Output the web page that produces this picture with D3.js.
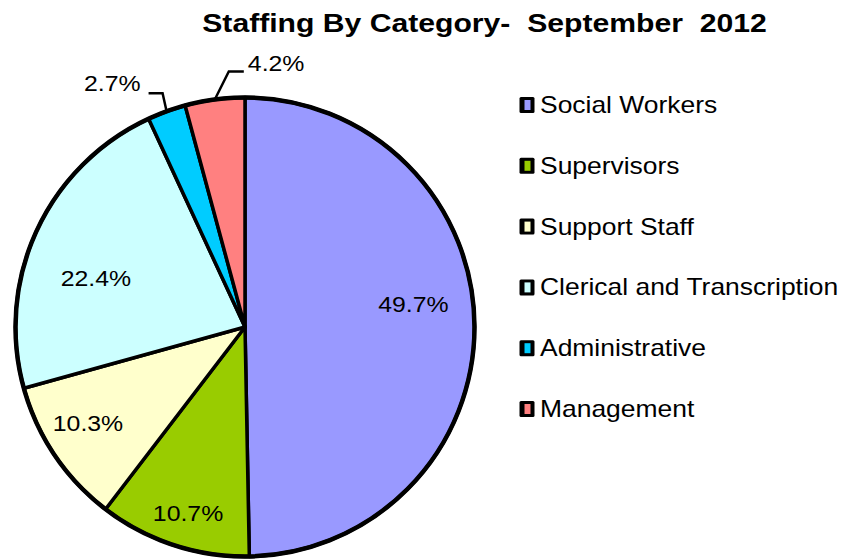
<!DOCTYPE html>
<html>
<head>
<meta charset="utf-8">
<script src="https://cdn.jsdelivr.net/npm/d3@7"></script>
<style>
  html, body { margin: 0; padding: 0; background: #fff; }
  svg { display: block; }
  text { font-family: Arial, "Liberation Sans", sans-serif; fill: #000; white-space: pre; }
</style>
</head>
<body>
<svg id="chart" width="846" height="560"></svg>
<script>
// Staff headcount share by category, September 2012 (percent)
const categories = ["Social Workers", "Supervisors", "Support Staff",
                    "Clerical and Transcription", "Administrative", "Management"];
const shares = [49.7, 10.7, 10.3, 22.4, 2.7, 4.2];
const sliceColors = ["#9999FF", "#99CC00", "#FFFFCC", "#CCFFFF", "#00CCFF", "#FF8080"];
const chartTitle = "Staffing By Category-  September  2012";

const svg = d3.select("#chart");
const cx = 245, cy = 327, R = 229.5;
const stretch = 1.16;   // text is drawn slightly wide

// horizontally widened text anchored at (x, y)
function wideText(sel, x, y, str, size, anchor, weight, k) {
  const g = sel.append("g").attr("transform", `translate(${x},${y}) scale(${k || stretch},1)`);
  g.append("text")
    .attr("xml:space", "preserve")
    .attr("text-anchor", anchor || "start")
    .attr("font-size", size)
    .attr("font-weight", weight || "normal")
    .text(str);
  return g;
}

// title
wideText(svg, 484.5, 32, chartTitle, 26, "middle", "bold");

const color = d3.scaleOrdinal().domain(categories).range(sliceColors);
const pie = d3.pie().sort(null).value(d => d.value);
const arcs = pie(categories.map((c, i) => ({ name: c, value: shares[i] })));
const arc = d3.arc().innerRadius(0).outerRadius(R);

const g = svg.append("g").attr("transform", `translate(${cx},${cy})`);
g.selectAll("path.slice")
  .data(arcs)
  .enter().append("path")
  .attr("class", "slice")
  .attr("d", arc)
  .attr("fill", d => color(d.data.name))
  .attr("stroke", "#000")
  .attr("stroke-width", 3.5)
  .attr("stroke-linejoin", "round");
g.append("circle").attr("r", R).attr("fill", "none")
  .attr("stroke", "#000").attr("stroke-width", 4.5);

const fmt = v => v.toFixed(1) + "%";
const mid = d => (d.startAngle + d.endAngle) / 2;

// labels inside the larger slices: [radius, angle shift in degrees]
const insidePlacement = {
  "Social Workers": [170, -7.3],
  "Supervisors": [195, -1.2],
  "Support Staff": [184, 2.6],
  "Clerical and Transcription": [157, -6.6]
};
arcs.forEach(d => {
  const p = insidePlacement[d.data.name];
  if (!p) return;
  const a = mid(d) + p[1] * Math.PI / 180;
  const x = Math.sin(a) * p[0], y = -Math.cos(a) * p[0];
  wideText(g, x, y + 8, fmt(d.data.value), 22, "middle", "normal", 1.13);
});

// small slices: labels outside with leader lines
// [elbow dx, elbow dy, horizontal run, label side]
const outsidePlacement = {
  "Administrative": [-4, -18, -14, "end"],
  "Management": [14, -28, 15, "start"]
};
arcs.forEach(d => {
  const p = outsidePlacement[d.data.name];
  if (!p) return;
  const a = mid(d);
  const ex = Math.sin(a) * R, ey = -Math.cos(a) * R;
  const bx = ex + p[0], by = ey + p[1];
  const hx = bx + p[2];
  g.append("path")
    .attr("d", `M${ex},${ey}L${bx},${by}L${hx},${by}`)
    .attr("fill", "none").attr("stroke", "#000")
    .attr("stroke-width", 2.5).attr("stroke-linejoin", "miter");
  const tx = p[3] === "end" ? hx - 8 : hx + 4;
  const ty = p[3] === "end" ? by - 2 : by;
  wideText(g, tx, ty, fmt(d.data.value), 22, p[3], "normal", 1.13);
});

// legend
const legend = svg.append("g");
const rowY = d3.scalePoint().domain(categories).range([113, 417]);
categories.forEach(c => {
  const y = rowY(c);
  legend.append("rect").attr("x", 519.5).attr("y", y - 16).attr("width", 15).attr("height", 16)
    .attr("rx", 1.5).attr("fill", "#000");
  legend.append("rect").attr("x", 524.5).attr("y", y - 13).attr("width", 6).attr("height", 10)
    .attr("fill", color(c));
  wideText(legend, 540, y, c, 23, "start", "normal", 1.15);
});
</script>
</body>
</html>
